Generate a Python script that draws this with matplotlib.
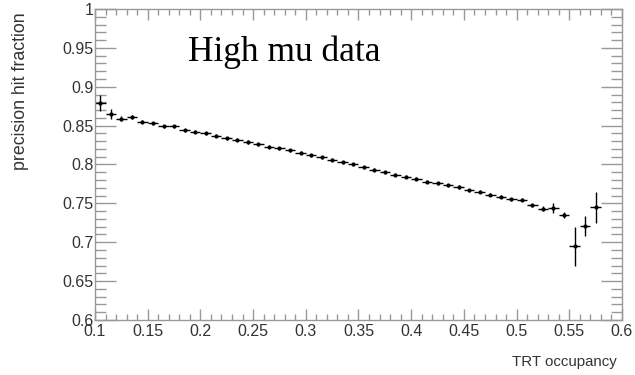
import numpy as np
import matplotlib.pyplot as plt
from matplotlib.ticker import MultipleLocator, FormatStrFormatter

occupancy = [0.105, 0.115, 0.125, 0.135, 0.145, 0.155, 0.165, 0.175, 0.185, 0.195,
             0.205, 0.215, 0.225, 0.235, 0.245, 0.255, 0.265, 0.275, 0.285, 0.295,
             0.305, 0.315, 0.325, 0.335, 0.345, 0.355, 0.365, 0.375, 0.385, 0.395,
             0.405, 0.415, 0.425, 0.435, 0.445, 0.455, 0.465, 0.475, 0.485, 0.495,
             0.505, 0.515, 0.525, 0.535, 0.545, 0.555, 0.565, 0.575]
fraction = [0.879, 0.865, 0.859, 0.861, 0.855, 0.853, 0.849, 0.849, 0.844, 0.842,
            0.840, 0.837, 0.834, 0.832, 0.829, 0.826, 0.823, 0.821, 0.818, 0.815,
            0.812, 0.809, 0.806, 0.803, 0.800, 0.7965, 0.793, 0.790, 0.787, 0.7845,
            0.7815, 0.778, 0.776, 0.773, 0.771, 0.767, 0.765, 0.761, 0.7585, 0.7555,
            0.7545, 0.7475, 0.743, 0.744, 0.735, 0.695, 0.721, 0.745]
frac_err = [0.010, 0.006, 0.003, 0.003, 0.002, 0.002, 0.002, 0.002, 0.002, 0.002,
            0.002, 0.002, 0.002, 0.002, 0.002, 0.002, 0.002, 0.002, 0.002, 0.002,
            0.002, 0.002, 0.002, 0.002, 0.002, 0.002, 0.002, 0.002, 0.002, 0.002,
            0.002, 0.002, 0.002, 0.002, 0.002, 0.002, 0.002, 0.002, 0.002, 0.002,
            0.002, 0.002, 0.003, 0.0065, 0.004, 0.025, 0.013, 0.020]
bin_half = 0.005

fig = plt.figure(figsize=(6.35, 3.75), dpi=100)
ax = fig.add_axes([0.1496, 0.1467, 0.8299, 0.8293])

ax.errorbar(occupancy, fraction, xerr=bin_half, yerr=frac_err, fmt="o",
            color="black", markersize=2, elinewidth=1.0, capsize=0)

ax.set_xlim(0.1, 0.6)
ax.set_ylim(0.6, 1.0)

ax.xaxis.set_major_locator(MultipleLocator(0.05))
ax.xaxis.set_minor_locator(MultipleLocator(0.01))
ax.yaxis.set_major_locator(MultipleLocator(0.05))
ax.yaxis.set_minor_locator(MultipleLocator(0.01))
ax.xaxis.set_major_formatter(FormatStrFormatter("%g"))
ax.yaxis.set_major_formatter(FormatStrFormatter("%g"))

tick_col = "#999999"
for s in ax.spines.values():
    s.set_color(tick_col)
    s.set_linewidth(1.0)

ax.tick_params(axis="x", which="major", direction="in", length=8, width=1,
               color=tick_col, top=True, labelsize=11.5, labelcolor="#333333", pad=3)
ax.tick_params(axis="x", which="minor", direction="in", length=4, width=1,
               color=tick_col, top=True)
ax.tick_params(axis="y", which="major", direction="in", length=15, width=1,
               color=tick_col, right=True, labelsize=11.5, labelcolor="#333333", pad=1)
ax.tick_params(axis="y", which="minor", direction="in", length=8, width=1,
               color=tick_col, right=True)

for lbl in ax.get_xticklabels() + ax.get_yticklabels():
    lbl.set_family("Liberation Sans")

fig.text(0.972, 0.035, "TRT occupancy", ha="right", va="center",
         fontsize=10.8, color="#333333", family="Liberation Sans")
fig.text(0.033, 0.968, "precision hit fraction", ha="center", va="top",
         rotation=90, fontsize=12.8, color="#333333", family="Liberation Sans")

ax.text(0.296, 0.86, "High mu data", transform=fig.transFigure,
        fontsize=25.5, family="Liberation Serif", color="black", va="center")

fig.savefig("out.png", dpi=100)
